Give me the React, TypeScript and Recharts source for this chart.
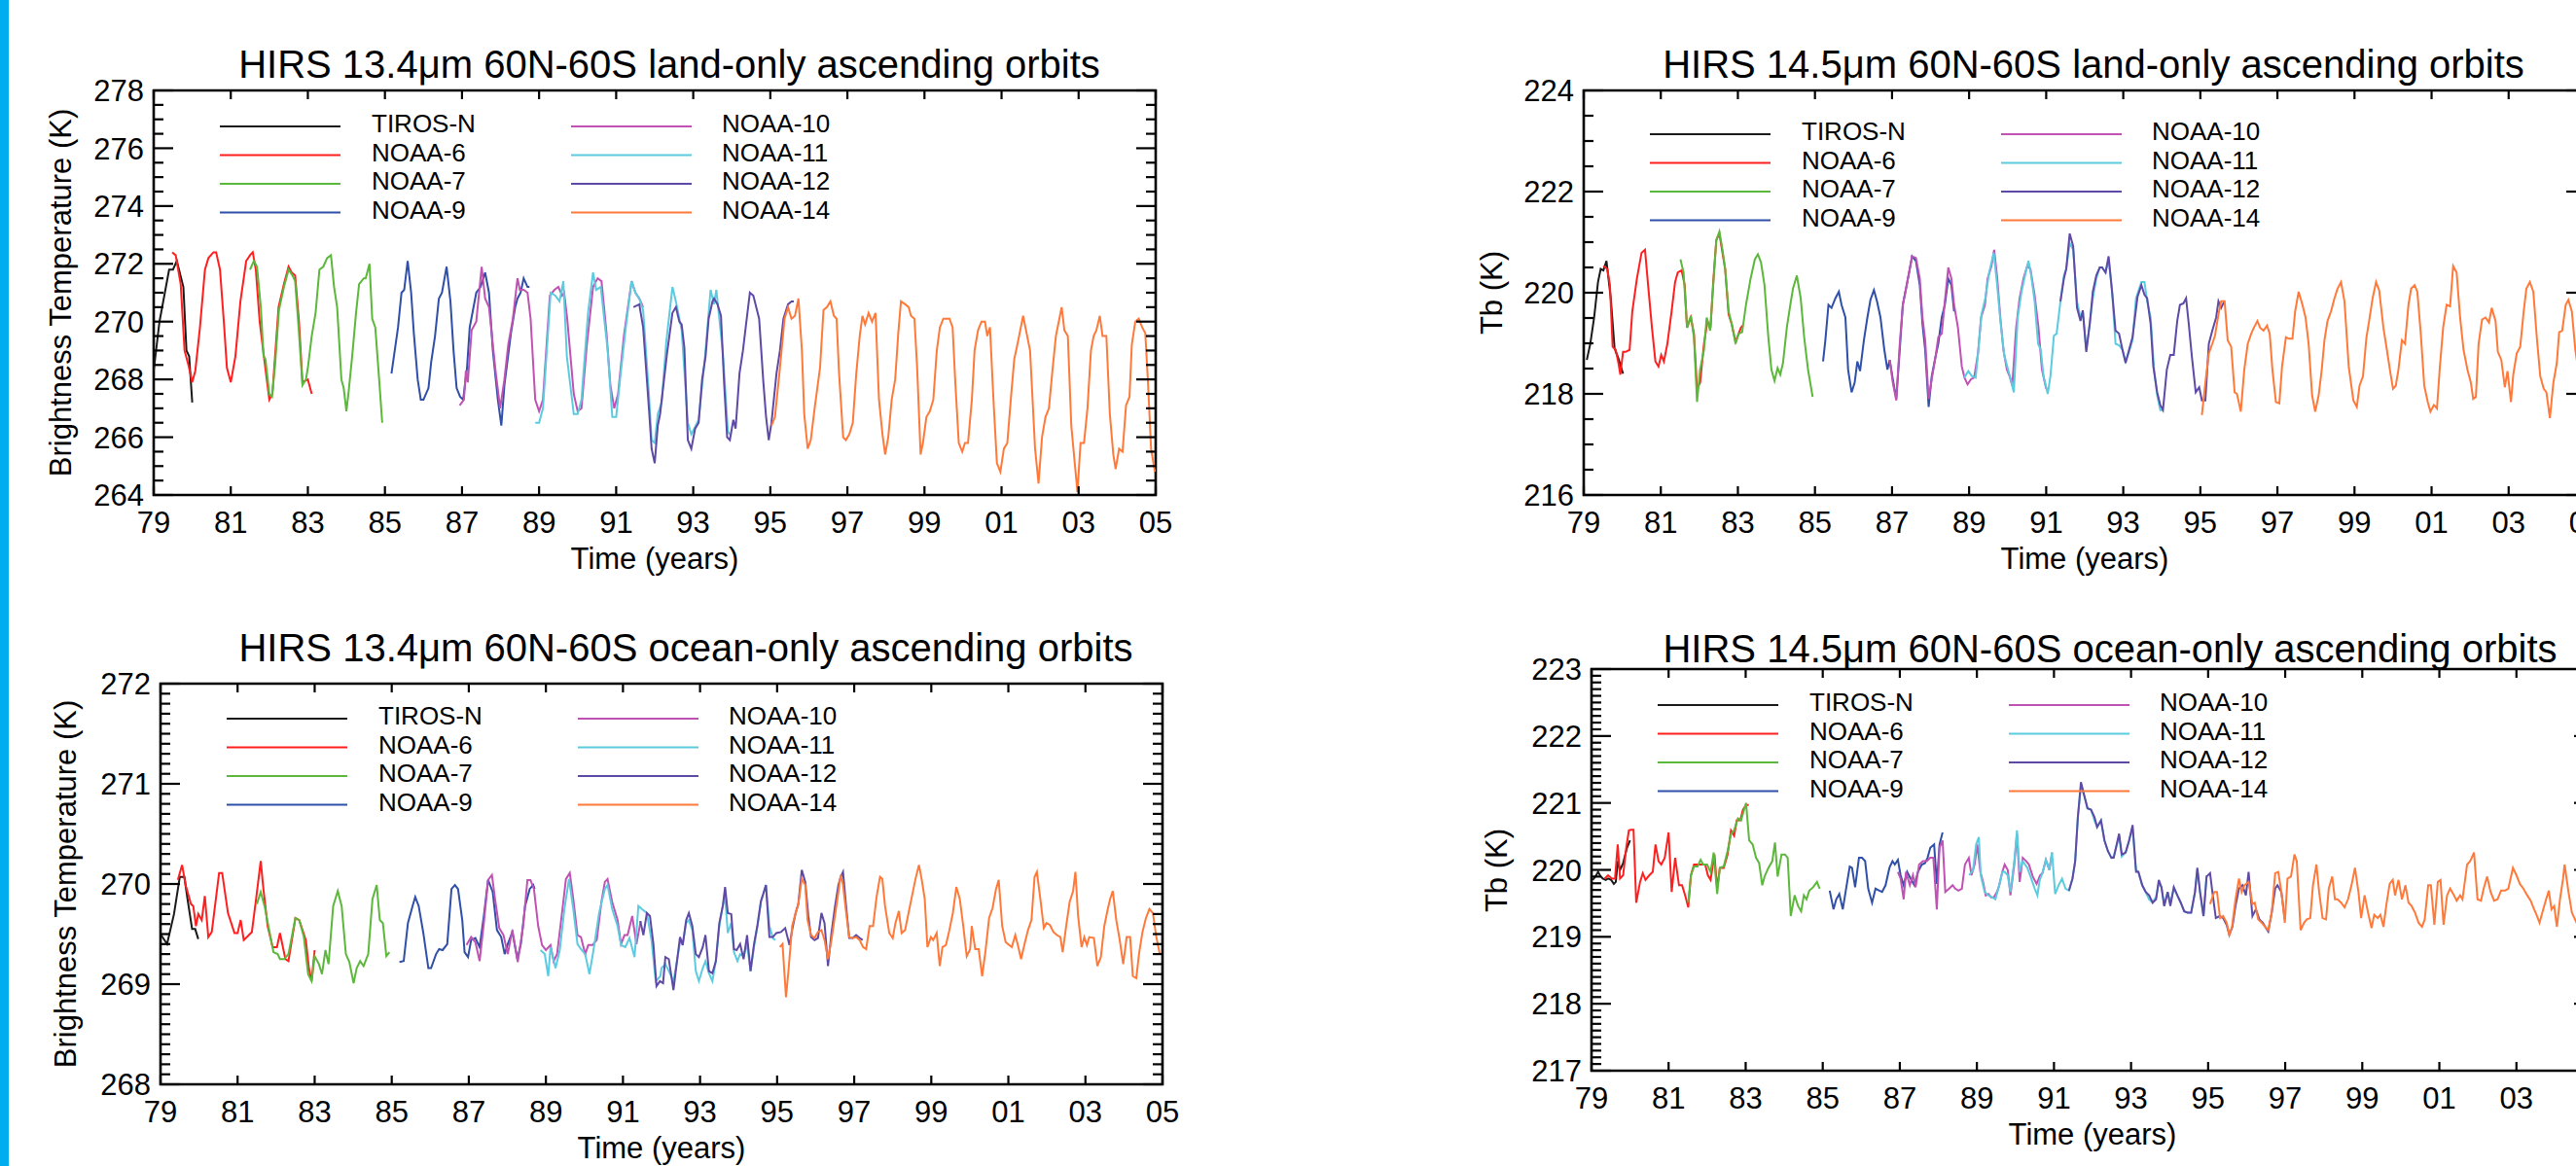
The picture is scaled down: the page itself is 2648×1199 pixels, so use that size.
import React from "react";
import { LineChart, Line, XAxis, YAxis, ReferenceArea, Legend } from "recharts";

type Pt = [number, number]; // [years since 1900, brightness temperature K]

const FONT = '"Liberation Sans", Arial, Helvetica, sans-serif';

const SATELLITES = ["TIROS-N", "NOAA-6", "NOAA-7", "NOAA-9", "NOAA-10", "NOAA-11", "NOAA-12", "NOAA-14"];
const SAT_COLORS = ["#1a1a1a", "#ff1f1f", "#5cb83c", "#2f4fa8", "#c052b4", "#5ccbe0", "#5e4aa6", "#ff7a3a"];

const YEAR_TICKS = [79, 81, 83, 85, 87, 89, 91, 93, 95, 97, 99, 101, 103, 105];

// ---------- HIRS 13.4um land ----------
const L134_TIROSN: Pt[] = [[79.0,268.3],[79.15,270.0],[79.4,271.8],[79.5,271.8],[79.6,272.1],[79.77,271.2],[79.85,269.0],[79.92,268.8],[80.0,267.2]];
const L134_N6: Pt[] = [[79.48,272.4],[79.57,272.3],[79.7,271.3],[79.8,269.0],[79.9,268.5],[80.0,267.9],[80.08,268.3],[80.2,269.8],[80.33,271.8],[80.42,272.2],[80.55,272.4],[80.62,272.4],[80.72,271.8],[80.82,270.0],[80.9,268.4],[81.0,267.9],[81.12,268.8],[81.25,270.7],[81.4,272.1],[81.5,272.3],[81.57,272.4],[81.65,271.8],[81.75,270.0],[81.85,268.9],[82.0,267.3],[82.08,267.5],[82.24,270.5],[82.38,271.3],[82.5,271.9],[82.58,271.7],[82.67,271.6],[82.77,270.0],[82.86,267.9],[83.0,268.0],[83.1,267.5]];
const L134_N7: Pt[] = [[81.5,271.8],[81.6,272.1],[81.68,271.9],[81.78,270.5],[81.85,268.8],[81.9,268.7],[82.0,267.5],[82.07,267.4],[82.15,268.5],[82.25,270.4],[82.38,271.2],[82.5,271.8],[82.6,271.6],[82.67,271.4],[82.76,269.8],[82.86,267.8],[82.95,268.0],[83.0,268.4],[83.1,269.5],[83.2,270.3],[83.3,271.8],[83.4,271.9],[83.5,272.2],[83.6,272.3],[83.68,271.2],[83.76,270.5],[83.87,268.0],[83.93,267.7],[84.0,266.9],[84.06,267.6],[84.15,268.8],[84.25,270.3],[84.33,271.3],[84.45,271.5],[84.5,271.5],[84.6,272.0],[84.67,270.1],[84.75,269.8],[84.85,268.0],[84.93,266.5]];
const L134_N9: Pt[] = [[85.17,268.2],[85.34,269.8],[85.43,271.0],[85.5,271.1],[85.59,272.1],[85.68,271.0],[85.75,269.6],[85.85,268.0],[85.93,267.3],[86.0,267.3],[86.13,267.7],[86.2,268.6],[86.3,269.5],[86.4,270.8],[86.48,271.0],[86.6,271.9],[86.7,270.7],[86.78,269.0],[86.86,267.7],[86.95,267.4],[87.03,267.3],[87.13,268.4],[87.2,269.8],[87.37,271.0],[87.48,271.2],[87.6,271.7],[87.7,271.0],[87.8,269.0],[87.93,267.3],[88.02,266.4],[88.1,267.8],[88.27,269.6],[88.38,270.5],[88.44,270.8],[88.52,271.0],[88.6,271.5],[88.7,271.2],[88.75,271.2]];
const L134_N10: Pt[] = [[86.94,267.1],[87.05,267.3],[87.1,268.3],[87.15,267.9],[87.25,269.7],[87.37,270.0],[87.51,271.9],[87.6,270.8],[87.7,270.5],[87.87,268.3],[87.99,267.0],[88.1,268.0],[88.2,269.2],[88.32,270.1],[88.44,271.5],[88.5,271.1],[88.6,271.1],[88.7,271.0],[88.78,270.1],[88.9,267.3],[89.0,266.9],[89.1,267.3],[89.28,270.9],[89.4,271.1],[89.5,271.2],[89.6,270.9],[89.65,271.0],[89.73,270.1],[89.9,267.5],[90.0,266.9],[90.1,267.0],[90.24,269.2],[90.4,271.2],[90.52,271.5],[90.62,271.4],[90.75,269.6],[90.85,267.8],[90.95,267.0],[91.05,267.5],[91.2,269.5],[91.4,271.4],[91.5,271.0],[91.6,270.8],[91.7,270.5]];
const L134_N11: Pt[] = [[88.9,266.5],[89.0,266.5],[89.1,267.0],[89.3,271.0],[89.42,270.9],[89.53,270.7],[89.63,271.4],[89.72,268.8],[89.9,266.8],[90.0,266.8],[90.1,267.3],[90.27,270.3],[90.4,271.7],[90.48,271.1],[90.6,271.2],[90.78,269.0],[90.9,266.7],[91.0,266.7],[91.1,268.0],[91.25,269.8],[91.4,271.4],[91.5,271.0],[91.6,270.8],[91.7,270.4],[91.85,267.5],[91.92,265.9],[92.0,265.8],[92.08,266.8],[92.18,267.2],[92.3,269.3],[92.46,271.2],[92.55,270.7],[92.7,269.7],[92.86,266.5],[92.95,266.1],[93.14,266.6],[93.3,268.7],[93.45,271.1],[93.54,270.6],[93.6,271.1],[93.77,268.9],[93.9,266.2],[93.95,266.1]];
const L134_N12: Pt[] = [[91.45,270.5],[91.6,270.6],[91.7,269.8],[91.85,267.0],[91.92,265.6],[92.0,265.1],[92.08,266.4],[92.14,266.8],[92.32,268.9],[92.46,270.3],[92.55,270.5],[92.64,270.0],[92.7,269.9],[92.77,269.1],[92.86,265.9],[92.95,265.6],[93.05,266.3],[93.14,266.5],[93.23,268.0],[93.32,268.8],[93.4,270.1],[93.5,270.7],[93.54,270.8],[93.63,270.6],[93.72,270.2],[93.8,267.9],[93.88,266.0],[93.95,265.9],[94.04,266.6],[94.1,266.3],[94.2,268.2],[94.29,269.0],[94.37,269.9],[94.47,271.0],[94.56,270.9],[94.71,270.1],[94.82,267.9],[94.89,266.7],[94.96,265.9],[95.03,266.5],[95.16,268.2],[95.25,269.0],[95.34,270.1],[95.46,270.6],[95.55,270.7],[95.61,270.7]];
const L134_N14: Pt[] = [[95.03,266.4],[95.12,266.7],[95.25,268.4],[95.37,270.1],[95.46,270.5],[95.55,270.1],[95.64,270.2],[95.73,270.8],[95.82,269.0],[95.88,266.8],[95.97,265.6],[96.05,265.9],[96.15,267.0],[96.29,268.4],[96.38,270.4],[96.47,270.5],[96.56,270.7],[96.65,270.2],[96.72,270.1],[96.78,268.3],[96.89,266.0],[96.96,265.9],[97.05,266.1],[97.14,266.5],[97.23,268.2],[97.32,269.5],[97.39,270.2],[97.46,269.9],[97.55,270.3],[97.64,270.0],[97.73,270.3],[97.82,267.3],[97.91,266.1],[97.98,265.4],[98.06,266.0],[98.15,267.3],[98.24,268.0],[98.32,269.6],[98.39,270.7],[98.5,270.6],[98.59,270.5],[98.65,270.2],[98.74,270.1],[98.81,268.4],[98.9,265.4],[98.96,265.8],[99.05,266.7],[99.14,266.9],[99.23,267.3],[99.32,269.0],[99.4,269.8],[99.49,270.1],[99.56,270.1],[99.65,270.1],[99.73,269.8],[99.8,267.9],[99.89,265.8],[99.98,265.5],[100.05,265.8],[100.13,265.8],[100.23,267.3],[100.3,269.0],[100.39,269.7],[100.48,270.0],[100.57,270.0],[100.63,269.5],[100.7,269.8],[100.79,267.3],[100.88,265.1],[100.97,264.8],[101.06,265.6],[101.15,265.8],[101.24,267.3],[101.33,268.7],[101.41,269.2],[101.5,269.8],[101.56,270.2],[101.65,269.6],[101.74,269.0],[101.87,265.6],[101.96,264.4],[102.05,266.0],[102.14,266.7],[102.23,267.0],[102.32,268.3],[102.41,269.5],[102.5,270.1],[102.56,270.5],[102.63,269.7],[102.72,269.5],[102.81,266.4],[102.9,265.1],[102.97,264.1],[103.05,265.8],[103.14,265.8],[103.23,267.0],[103.32,269.0],[103.39,269.5],[103.46,269.7],[103.55,270.2],[103.62,269.5],[103.72,269.5],[103.81,266.8],[103.9,265.4],[103.96,264.9],[104.05,265.6],[104.14,265.5],[104.23,267.1],[104.32,267.4],[104.38,269.2],[104.47,270.0],[104.56,270.1],[104.65,269.8],[104.73,269.6],[104.8,267.9],[104.88,265.6],[104.98,264.8]];

// ---------- HIRS 13.4um ocean ----------
const O134_TIROSN: Pt[] = [[79.0,269.5],[79.17,269.4],[79.35,269.7],[79.5,270.07],[79.62,270.07],[79.7,269.85],[79.82,269.55],[79.9,269.55],[79.98,269.45]];
const O134_N6: Pt[] = [[79.45,270.04],[79.56,270.19],[79.65,269.99],[79.79,269.8],[79.85,269.78],[79.92,269.58],[79.98,269.7],[80.07,269.64],[80.15,269.88],[80.24,269.47],[80.33,269.52],[80.52,270.11],[80.6,270.11],[80.75,269.71],[80.92,269.51],[81.0,269.51],[81.08,269.64],[81.16,269.44],[81.37,269.52],[81.48,269.85],[81.6,270.23],[81.67,269.95],[81.78,269.58],[81.91,269.37],[82.02,269.37],[82.1,269.51],[82.24,269.25],[82.32,269.23],[82.5,269.66],[82.6,269.64],[82.77,269.44],[82.85,269.16],[82.92,269.03],[83.0,269.34]];
const O134_N7: Pt[] = [[81.5,269.8],[81.6,269.92],[81.7,269.78],[81.82,269.54],[81.93,269.32],[82.04,269.3],[82.1,269.25],[82.21,269.25],[82.32,269.3],[82.5,269.66],[82.6,269.64],[82.72,269.47],[82.83,269.1],[82.92,269.03],[83.0,269.28],[83.11,269.2],[83.19,269.1],[83.28,269.34],[83.36,269.2],[83.48,269.78],[83.6,269.93],[83.7,269.78],[83.81,269.3],[83.9,269.22],[84.01,269.01],[84.09,269.16],[84.18,269.23],[84.27,269.18],[84.39,269.3],[84.5,269.85],[84.61,269.99],[84.69,269.64],[84.77,269.61],[84.86,269.28],[84.94,269.32]];
const O134_N9: Pt[] = [[85.2,269.22],[85.31,269.23],[85.42,269.61],[85.54,269.78],[85.61,269.87],[85.7,269.78],[85.82,269.51],[85.95,269.16],[86.02,269.16],[86.15,269.3],[86.23,269.35],[86.32,269.34],[86.44,269.4],[86.55,269.95],[86.64,269.99],[86.72,269.95],[86.83,269.64],[86.89,269.32],[86.98,269.27],[87.06,269.44],[87.17,269.46],[87.28,269.37],[87.39,269.68],[87.5,270.04],[87.62,269.92],[87.73,269.54],[87.84,269.47],[87.93,269.3],[88.01,269.4],[88.13,269.52],[88.26,269.25],[88.35,269.4],[88.46,269.78],[88.58,269.95],[88.67,269.99],[88.71,269.95]];
const O134_N10: Pt[] = [[86.94,269.39],[87.06,269.47],[87.17,269.42],[87.28,269.23],[87.39,269.61],[87.5,270.04],[87.6,270.09],[87.68,269.85],[87.79,269.56],[87.9,269.49],[88.01,269.3],[88.13,269.54],[88.27,269.22],[88.41,269.58],[88.52,270.04],[88.6,270.04],[88.69,269.95],[88.8,269.58],[88.9,269.39],[89.0,269.34],[89.12,269.39],[89.2,269.23],[89.29,269.3],[89.43,269.75],[89.52,270.05],[89.62,270.11],[89.71,269.85],[89.82,269.49],[89.91,269.47],[90.02,269.3],[90.1,269.39],[90.21,269.39],[90.32,269.44],[90.44,269.82],[90.53,270.02],[90.6,270.05],[90.72,269.82],[90.86,269.64],[90.95,269.4],[91.04,269.49],[91.12,269.49],[91.24,269.68],[91.35,269.4],[91.46,269.63]];
const O134_N11: Pt[] = [[88.86,269.34],[88.97,269.3],[89.06,269.08],[89.12,269.37],[89.25,269.16],[89.36,269.34],[89.48,269.75],[89.6,270.05],[89.71,269.75],[89.82,269.4],[89.91,269.35],[90.02,269.3],[90.13,269.1],[90.24,269.35],[90.38,269.71],[90.53,269.95],[90.6,269.99],[90.72,269.75],[90.86,269.58],[90.95,269.39],[91.06,269.37],[91.17,269.46],[91.3,269.27],[91.4,269.78],[91.49,269.75],[91.62,269.71],[91.74,269.44],[91.85,269.03],[91.97,269.08],[92.0,269.16],[92.1,269.2],[92.19,269.13],[92.31,269.03],[92.37,269.16],[92.48,269.42],[92.55,269.4],[92.64,269.61],[92.71,269.64],[92.8,269.54],[92.89,269.13],[92.97,269.03],[93.07,269.16],[93.14,269.23],[93.23,269.11],[93.32,269.03],[93.41,269.23],[93.5,269.58],[93.59,269.78],[93.65,269.88],[93.72,269.51],[93.81,269.61],[93.88,269.32],[93.97,269.23],[94.04,269.3],[94.13,269.28],[94.22,269.4],[94.31,269.13],[94.4,269.37],[94.49,269.58],[94.58,269.82],[94.71,269.99],[94.8,269.58],[94.89,269.46],[94.95,269.44]];
const O134_N12: Pt[] = [[91.45,269.63],[91.53,269.49],[91.62,269.71],[91.7,269.68],[91.79,269.4],[91.87,268.98],[91.96,269.03],[92.04,269.01],[92.1,269.27],[92.19,269.25],[92.31,268.94],[92.37,269.13],[92.48,269.47],[92.55,269.39],[92.64,269.64],[92.71,269.71],[92.8,269.58],[92.89,269.3],[92.97,269.27],[93.07,269.37],[93.14,269.49],[93.23,269.13],[93.32,269.11],[93.41,269.23],[93.5,269.61],[93.59,269.78],[93.65,269.97],[93.72,269.71],[93.81,269.7],[93.88,269.35],[93.95,269.34],[94.04,269.4],[94.13,269.25],[94.22,269.49],[94.31,269.13],[94.4,269.4],[94.49,269.59],[94.58,269.83],[94.64,269.9],[94.71,269.99],[94.8,269.47],[94.89,269.47],[94.98,269.51],[95.1,269.52],[95.21,269.56],[95.32,269.39],[95.39,269.54],[95.48,269.71],[95.55,269.8],[95.64,270.14],[95.73,270.02],[95.81,269.68],[95.88,269.47],[95.97,269.44],[96.06,269.46],[96.15,269.71],[96.23,269.61],[96.32,269.18],[96.41,269.51],[96.5,269.77],[96.59,269.99],[96.65,270.07],[96.71,270.12],[96.78,269.82],[96.87,269.46],[96.96,269.46],[97.05,269.49],[97.14,269.46],[97.22,269.44]];
const O134_N14: Pt[] = [[95.07,269.37],[95.14,269.4],[95.23,268.87],[95.3,269.16],[95.39,269.58],[95.48,269.71],[95.55,269.8],[95.64,270.05],[95.73,269.99],[95.79,269.64],[95.88,269.49],[95.97,269.46],[96.06,269.52],[96.15,269.54],[96.23,269.44],[96.32,269.25],[96.41,269.44],[96.5,269.68],[96.59,269.92],[96.65,270.09],[96.71,269.99],[96.78,269.75],[96.87,269.47],[96.96,269.46],[97.05,269.47],[97.14,269.44],[97.23,269.37],[97.31,269.35],[97.4,269.58],[97.49,269.58],[97.58,269.87],[97.67,270.07],[97.73,270.05],[97.8,269.78],[97.91,269.51],[98.0,269.46],[98.07,269.61],[98.16,269.73],[98.23,269.51],[98.32,269.54],[98.41,269.71],[98.5,269.88],[98.59,270.05],[98.68,270.19],[98.75,270.05],[98.83,269.85],[98.9,269.37],[98.99,269.47],[99.05,269.44],[99.14,269.51],[99.22,269.18],[99.29,269.37],[99.38,269.39],[99.47,269.54],[99.56,269.71],[99.65,269.97],[99.74,269.85],[99.83,269.58],[99.92,269.28],[100.01,269.35],[100.05,269.58],[100.14,269.35],[100.23,269.35],[100.32,269.08],[100.41,269.34],[100.5,269.66],[100.59,269.76],[100.68,269.95],[100.75,270.04],[100.84,269.58],[100.93,269.42],[101.02,269.39],[101.09,269.37],[101.18,269.49],[101.24,269.4],[101.33,269.25],[101.42,269.4],[101.51,269.54],[101.6,269.64],[101.68,270.07],[101.74,270.12],[101.83,269.85],[101.92,269.56],[101.99,269.61],[102.08,269.59],[102.17,269.52],[102.26,269.49],[102.35,269.47],[102.41,269.32],[102.5,269.58],[102.59,269.82],[102.68,269.93],[102.74,270.12],[102.81,269.68],[102.9,269.37],[102.97,269.47],[103.04,269.39],[103.1,269.47],[103.22,269.46],[103.31,269.18],[103.4,269.27],[103.49,269.58],[103.58,269.75],[103.64,269.85],[103.71,269.93],[103.8,269.64],[103.89,269.44],[103.98,269.2],[104.07,269.47],[104.16,269.47],[104.23,269.08],[104.32,269.06],[104.39,269.3],[104.48,269.52],[104.57,269.66],[104.66,269.75],[104.75,269.71],[104.84,269.47],[104.93,269.3],[104.97,269.3]];

// ---------- HIRS 14.5um land ----------
const L145_TIROSN: Pt[] = [[79.08,218.67],[79.17,218.99],[79.27,219.51],[79.37,220.21],[79.44,220.47],[79.51,220.44],[79.59,220.63],[79.7,219.9],[79.8,218.9],[79.9,218.7],[80.02,218.4]];
const L145_N6: Pt[] = [[79.51,220.53],[79.61,220.47],[79.68,220.15],[79.75,218.93],[79.83,218.87],[79.9,218.61],[79.95,218.38],[80.02,218.83],[80.09,218.83],[80.19,218.87],[80.26,219.63],[80.38,220.28],[80.5,220.79],[80.59,220.85],[80.67,220.15],[80.77,219.31],[80.86,218.64],[80.94,218.54],[81.01,218.77],[81.08,218.64],[81.17,218.99],[81.28,219.63],[81.37,220.21],[81.44,220.4],[81.54,220.44],[81.62,220.15],[81.68,219.31],[81.78,219.51],[81.86,219.19],[81.94,218.1],[82.02,218.22],[82.12,218.99],[82.21,219.44],[82.29,219.31],[82.36,220.21],[82.44,221.04],[82.52,221.17],[82.6,220.79],[82.67,220.47],[82.76,219.57],[82.84,219.38],[82.94,219.03],[83.02,219.19],[83.08,219.31],[83.13,219.35]];
const L145_N7: Pt[] = [[81.51,220.66],[81.59,220.4],[81.68,219.31],[81.78,219.54],[81.86,219.12],[81.94,217.84],[82.02,218.48],[82.12,218.87],[82.19,219.51],[82.28,219.25],[82.36,220.15],[82.44,221.04],[82.52,221.21],[82.6,220.85],[82.67,220.47],[82.76,219.63],[82.84,219.38],[82.94,218.99],[83.02,219.19],[83.11,219.22],[83.21,219.76],[83.33,220.28],[83.44,220.66],[83.52,220.76],[83.6,220.6],[83.69,220.15],[83.79,219.12],[83.87,218.48],[83.95,218.26],[84.03,218.51],[84.1,218.38],[84.17,218.61],[84.27,219.31],[84.36,219.76],[84.43,220.08],[84.53,220.34],[84.63,219.89],[84.72,219.12],[84.82,218.48],[84.94,217.94]];
const L145_N9: Pt[] = [[85.21,218.64],[85.27,219.06],[85.35,219.76],[85.43,219.7],[85.53,219.89],[85.62,220.02],[85.69,219.76],[85.79,219.51],[85.86,218.48],[85.95,218.03],[86.03,218.22],[86.1,218.64],[86.17,218.45],[86.27,219.06],[86.36,219.51],[86.44,219.86],[86.53,220.05],[86.61,219.83],[86.7,219.51],[86.8,218.87],[86.88,218.48],[86.94,218.67],[87.02,218.29],[87.11,217.9],[87.2,218.87],[87.28,219.76],[87.38,220.15],[87.46,220.47],[87.52,220.72],[87.62,220.63],[87.72,220.15],[87.79,219.38],[87.86,218.87],[87.95,217.74],[88.03,218.35],[88.13,218.74],[88.2,218.99],[88.29,219.51],[88.37,219.76],[88.46,220.28],[88.54,220.15],[88.61,219.63]];
const L145_N10: Pt[] = [[86.94,218.67],[87.02,218.22],[87.11,217.87],[87.2,218.99],[87.28,219.76],[87.38,220.15],[87.46,220.47],[87.52,220.72],[87.62,220.69],[87.72,220.28],[87.79,219.51],[87.86,219.06],[87.95,217.9],[88.03,218.29],[88.13,218.74],[88.2,219.12],[88.29,219.19],[88.37,219.83],[88.46,220.5],[88.54,220.28],[88.61,219.76],[88.71,219.31],[88.81,218.54],[88.88,218.32],[88.96,218.19],[89.05,218.29],[89.13,218.32],[89.23,218.8],[89.31,219.51],[89.41,219.76],[89.48,220.28],[89.58,220.53],[89.65,220.85],[89.73,220.28],[89.81,219.51],[89.89,218.87],[89.98,218.48],[90.05,218.35],[90.12,218.16],[90.22,219.31],[90.31,219.89],[90.41,220.28],[90.51,220.53],[90.59,220.47],[90.7,219.95],[90.8,219.31],[90.89,218.48],[91.0,218.1]];
const L145_N11: Pt[] = [[88.87,218.32],[88.98,218.45],[89.07,218.35],[89.17,218.32],[89.24,218.87],[89.32,219.57],[89.42,219.89],[89.52,220.4],[89.64,220.79],[89.72,220.21],[89.82,219.38],[89.91,218.77],[90.01,218.48],[90.08,218.29],[90.16,218.03],[90.26,219.51],[90.36,220.02],[90.45,220.34],[90.54,220.63],[90.6,220.4],[90.7,219.83],[90.79,218.99],[90.86,218.87],[90.93,218.35],[91.04,218.0],[91.11,218.35],[91.2,219.15],[91.27,219.19],[91.37,219.83],[91.46,220.34],[91.52,220.47],[91.61,220.98],[91.7,220.85],[91.8,219.83],[91.89,219.51],[91.95,219.63],[92.04,218.87],[92.13,219.38],[92.21,219.89],[92.3,220.28],[92.39,220.5],[92.45,220.5],[92.54,220.4],[92.62,220.66],[92.71,220.02],[92.8,218.99],[92.89,218.96],[92.98,218.87],[93.06,218.64],[93.15,218.83],[93.24,219.06],[93.33,219.89],[93.47,220.21],[93.55,220.21],[93.62,219.83],[93.71,219.51],[93.8,218.48],[93.88,217.97],[93.96,217.68],[94.03,217.68]];
const L145_N12: Pt[] = [[91.37,219.83],[91.46,220.28],[91.52,220.47],[91.61,221.17],[91.7,220.92],[91.8,219.7],[91.89,219.44],[91.95,219.65],[92.04,218.83],[92.13,219.38],[92.21,220.02],[92.3,220.34],[92.39,220.5],[92.45,220.5],[92.54,220.4],[92.62,220.72],[92.71,220.02],[92.8,219.25],[92.89,219.19],[92.98,218.87],[93.06,218.61],[93.15,218.87],[93.24,219.12],[93.37,219.92],[93.47,220.15],[93.55,219.96],[93.62,219.89],[93.71,219.38],[93.78,218.54],[93.88,218.03],[93.96,217.78],[94.03,217.68],[94.13,218.48],[94.22,218.77],[94.31,218.77],[94.4,219.44],[94.47,219.76],[94.56,219.79],[94.63,219.89],[94.7,219.38],[94.78,218.74],[94.88,218.03],[94.97,218.13],[95.04,217.87],[95.13,217.87],[95.22,218.99],[95.31,219.25],[95.41,219.51],[95.47,219.83],[95.54,219.7],[95.62,219.83]];
const L145_N14: Pt[] = [[95.04,217.58],[95.13,218.22],[95.22,218.8],[95.31,218.99],[95.38,219.15],[95.47,219.57],[95.54,219.83],[95.63,219.83],[95.71,219.06],[95.8,218.93],[95.89,218.03],[95.95,218.0],[96.05,217.65],[96.14,218.48],[96.23,218.99],[96.32,219.19],[96.39,219.31],[96.48,219.44],[96.55,219.31],[96.64,219.25],[96.73,219.35],[96.8,219.19],[96.87,218.48],[96.96,217.84],[97.05,217.81],[97.12,218.54],[97.22,219.12],[97.3,219.09],[97.39,219.09],[97.46,219.63],[97.55,220.02],[97.65,219.76],[97.73,219.51],[97.81,218.99],[97.9,217.97],[97.98,217.65],[98.07,217.97],[98.15,218.48],[98.22,219.06],[98.3,219.44],[98.39,219.63],[98.48,219.89],[98.56,220.08],[98.65,220.21],[98.74,219.83],[98.85,218.54],[98.97,217.87],[99.06,217.74],[99.13,218.16],[99.22,218.35],[99.31,219.12],[99.38,219.44],[99.47,219.89],[99.56,220.21],[99.64,220.05],[99.75,219.31],[99.84,218.87],[99.93,218.42],[100.0,218.1],[100.07,218.16],[100.14,218.48],[100.23,219.06],[100.31,218.99],[100.4,219.76],[100.47,220.08],[100.56,220.15],[100.63,220.02],[100.72,219.19],[100.81,218.16],[100.9,217.84],[100.97,217.65],[101.06,217.78],[101.14,217.71],[101.21,218.48],[101.3,219.31],[101.39,219.76],[101.48,219.73],[101.56,220.53],[101.65,220.4],[101.74,219.51],[101.83,218.87],[101.93,218.48],[102.02,218.22],[102.08,217.9],[102.15,217.94],[102.22,218.99],[102.31,219.47],[102.4,219.51],[102.49,219.41],[102.56,219.7],[102.66,219.44],[102.72,218.83],[102.81,218.67],[102.9,218.13],[102.97,218.45],[103.06,217.84],[103.12,218.38],[103.21,218.8],[103.3,218.93],[103.39,219.63],[103.46,220.08],[103.55,220.21],[103.64,220.02],[103.73,219.12],[103.82,218.35],[103.91,218.1],[103.98,218.03],[104.07,217.52],[104.16,218.22],[104.25,218.61],[104.31,219.22],[104.39,219.25],[104.48,219.76],[104.55,219.86],[104.64,219.63],[104.73,218.87],[104.82,218.4],[104.92,218.1]];

// ---------- HIRS 14.5um ocean ----------
const O145_TIROSN: Pt[] = [[79.03,219.85],[79.1,219.9],[79.17,219.97],[79.22,219.92],[79.29,219.87],[79.37,219.85],[79.43,219.87],[79.51,219.85],[79.58,219.79],[79.63,219.82],[79.68,220.13],[79.74,220.0],[79.82,220.1],[79.92,220.33],[80.0,220.44]];
const O145_N6: Pt[] = [[79.34,219.87],[79.43,219.92],[79.53,219.87],[79.61,219.87],[79.68,220.38],[79.74,219.87],[79.82,219.92],[79.9,220.33],[79.97,220.59],[80.03,220.6],[80.09,220.6],[80.16,219.51],[80.26,219.82],[80.33,219.95],[80.4,219.85],[80.5,219.92],[80.59,219.97],[80.66,220.38],[80.74,220.13],[80.81,220.08],[80.9,220.18],[81.0,220.56],[81.08,219.67],[81.17,220.18],[81.27,219.77],[81.35,219.77],[81.43,219.62],[81.51,219.44],[81.58,219.92],[81.66,220.08],[81.75,220.08],[81.85,220.08],[81.95,220.08],[82.02,219.92],[82.09,219.85],[82.19,220.23],[82.26,219.72],[82.33,220.03],[82.43,220.03],[82.53,220.23],[82.62,220.59],[82.7,220.51],[82.77,220.74],[82.86,220.74],[82.93,220.9],[83.01,220.97],[83.08,220.97]];
const O145_N7: Pt[] = [[81.51,219.51],[81.58,219.92],[81.66,220.05],[81.75,220.05],[81.83,220.15],[81.9,220.08],[82.0,220.08],[82.09,219.97],[82.17,220.26],[82.26,219.64],[82.33,220.03],[82.43,220.05],[82.53,220.28],[82.62,220.54],[82.7,220.59],[82.8,220.77],[82.88,220.74],[82.96,220.9],[83.01,221.0],[83.09,220.44],[83.18,220.38],[83.27,220.18],[83.35,220.1],[83.43,219.77],[83.49,219.9],[83.59,220.03],[83.69,220.13],[83.76,220.41],[83.83,219.9],[83.93,220.23],[84.02,220.23],[84.09,220.18],[84.17,219.31],[84.27,219.62],[84.36,219.46],[84.44,219.38],[84.51,219.62],[84.58,219.56],[84.65,219.69],[84.75,219.74],[84.85,219.82],[84.92,219.72]];
const O145_N9: Pt[] = [[85.18,219.69],[85.28,219.41],[85.35,219.56],[85.43,219.64],[85.52,219.41],[85.62,219.77],[85.7,220.05],[85.76,220.03],[85.84,219.74],[85.94,220.18],[86.02,220.18],[86.1,220.13],[86.18,219.72],[86.28,219.51],[86.37,219.72],[86.47,219.69],[86.54,219.67],[86.63,219.77],[86.73,220.03],[86.81,220.13],[86.87,220.08],[86.95,220.15],[87.02,219.92],[87.1,219.77],[87.19,219.97],[87.28,219.87],[87.38,219.77],[87.47,219.97],[87.57,220.08],[87.65,220.1],[87.72,220.18],[87.79,220.33],[87.89,220.38],[87.96,219.79],[88.03,220.38],[88.11,220.56]];
const O145_N10: Pt[] = [[86.95,219.97],[87.02,219.87],[87.1,219.56],[87.16,219.97],[87.26,219.77],[87.34,219.92],[87.41,219.74],[87.5,220.08],[87.6,220.13],[87.7,220.13],[87.79,220.18],[87.87,220.18],[87.96,219.41],[88.03,220.33],[88.11,220.44],[88.18,219.67],[88.28,219.72],[88.37,219.77],[88.44,219.72],[88.52,219.69],[88.61,219.72],[88.69,220.08],[88.79,220.18],[88.86,219.92],[88.94,220.08],[89.01,220.38],[89.09,219.97],[89.16,219.82],[89.23,219.62],[89.3,219.64],[89.37,219.59],[89.44,219.59],[89.52,219.67],[89.58,219.77],[89.66,219.97],[89.72,220.08],[89.8,220.0],[89.87,219.62],[89.97,220.08],[90.04,220.54],[90.11,219.82],[90.19,220.18],[90.28,220.13],[90.35,220.08],[90.45,219.9],[90.55,219.79],[90.64,219.92],[90.7,219.95],[90.79,220.15],[90.88,220.0],[90.95,220.26]];
const O145_N11: Pt[] = [[88.8,219.92],[88.9,220.0],[88.98,220.38],[89.05,220.49],[89.1,219.92],[89.2,219.67],[89.3,219.62],[89.39,219.59],[89.48,219.56],[89.58,219.77],[89.66,219.97],[89.72,219.97],[89.8,219.92],[89.87,219.67],[89.97,220.13],[90.04,220.59],[90.11,219.97],[90.19,220.13],[90.31,220.03],[90.41,219.87],[90.5,219.72],[90.57,219.62],[90.63,219.85],[90.7,219.95],[90.79,220.15],[90.88,220.0],[90.95,220.26],[91.03,219.64],[91.12,219.77],[91.21,219.87],[91.3,219.72],[91.39,219.69],[91.48,219.87],[91.55,220.13],[91.62,220.79],[91.7,221.25],[91.8,221.08],[91.87,220.92],[91.96,220.9],[92.05,220.74],[92.12,220.64],[92.22,220.74],[92.31,220.44],[92.4,220.28],[92.49,220.18],[92.55,220.2],[92.62,220.36],[92.69,220.5],[92.76,220.2],[92.86,220.26],[92.95,220.44],[93.04,220.62],[93.13,220.0],[93.19,219.97],[93.29,219.77],[93.38,219.67],[93.47,219.56],[93.56,219.51],[93.65,219.6],[93.72,219.8],[93.79,219.74],[93.86,219.46],[93.95,219.67],[94.02,219.5],[94.11,219.74],[94.2,219.62],[94.29,219.51],[94.38,219.38],[94.47,219.36],[94.56,219.36],[94.66,219.67],[94.72,220.0],[94.79,219.67],[94.88,219.31],[94.96,219.92]];
const O145_N12: Pt[] = [[91.39,219.69],[91.48,219.87],[91.55,220.13],[91.62,220.79],[91.7,221.31],[91.8,221.08],[91.87,220.92],[91.96,220.9],[92.05,220.79],[92.12,220.64],[92.22,220.74],[92.31,220.44],[92.4,220.28],[92.49,220.18],[92.55,220.18],[92.62,220.36],[92.69,220.54],[92.76,220.23],[92.86,220.26],[92.95,220.44],[93.04,220.67],[93.13,219.97],[93.19,219.97],[93.29,219.77],[93.38,219.67],[93.47,219.62],[93.56,219.51],[93.65,219.56],[93.72,219.85],[93.79,219.74],[93.86,219.46],[93.95,219.67],[94.02,219.46],[94.11,219.74],[94.2,219.62],[94.29,219.51],[94.38,219.38],[94.47,219.36],[94.56,219.36],[94.66,219.67],[94.72,220.03],[94.79,219.67],[94.88,219.31],[94.96,219.9],[95.05,219.95],[95.11,219.67],[95.2,219.28],[95.3,219.31],[95.39,219.28],[95.48,219.18],[95.55,219.03],[95.63,219.15],[95.71,219.46],[95.8,219.72],[95.89,219.77],[95.98,219.62],[96.05,219.97],[96.15,219.31],[96.24,219.41],[96.33,219.26],[96.42,219.21],[96.48,219.15],[96.56,219.08],[96.65,219.36],[96.74,219.72],[96.8,219.77],[96.9,219.67],[96.99,219.26]];
const O145_N14: Pt[] = [[95.05,219.49],[95.16,219.67],[95.23,219.67],[95.31,219.28],[95.39,219.31],[95.48,219.21],[95.55,219.03],[95.62,219.15],[95.71,219.56],[95.8,219.87],[95.87,219.67],[95.94,219.77],[96.05,219.82],[96.15,219.49],[96.21,219.51],[96.3,219.26],[96.39,219.21],[96.48,219.15],[96.56,219.1],[96.65,219.36],[96.74,219.95],[96.82,219.97],[96.9,219.67],[96.99,219.21],[97.06,219.87],[97.15,219.9],[97.24,220.23],[97.3,220.13],[97.4,219.1],[97.49,219.21],[97.56,219.26],[97.65,219.28],[97.72,219.77],[97.81,220.08],[97.88,219.67],[97.97,219.28],[98.06,219.26],[98.13,219.72],[98.22,219.9],[98.29,219.56],[98.36,219.56],[98.45,219.51],[98.54,219.44],[98.63,219.56],[98.72,219.77],[98.81,220.03],[98.9,219.67],[98.97,219.28],[99.06,219.62],[99.15,219.36],[99.24,219.13],[99.31,219.33],[99.4,219.28],[99.47,219.33],[99.55,219.15],[99.62,219.46],[99.71,219.79],[99.79,219.85],[99.85,219.62],[99.94,219.85],[100.03,219.56],[100.12,219.77],[100.2,219.51],[100.28,219.46],[100.37,219.36],[100.46,219.21],[100.55,219.15],[100.62,219.26],[100.71,219.77],[100.78,219.77],[100.87,219.18],[100.96,219.82],[101.03,219.85],[101.11,219.18],[101.2,219.62],[101.28,219.72],[101.38,219.62],[101.45,219.54],[101.54,219.62],[101.6,219.56],[101.72,220.08],[101.8,220.13],[101.9,220.26],[101.99,219.56],[102.08,219.54],[102.15,219.72],[102.24,219.9],[102.33,219.67],[102.42,219.54],[102.51,219.56],[102.6,219.69],[102.7,219.69],[102.79,219.72],[102.91,220.03],[103.0,219.92],[103.09,219.79],[103.18,219.72],[103.28,219.62],[103.37,219.54],[103.46,219.41],[103.52,219.33],[103.6,219.21],[103.68,219.38],[103.77,219.56],[103.84,219.69],[103.91,219.41],[103.98,219.46],[104.05,219.15],[104.13,219.56],[104.21,219.87],[104.25,220.08],[104.35,219.67],[104.44,219.36],[104.56,219.21],[104.7,219.45],[104.85,219.6],[104.97,219.35]];

type PanelCfg = {
  title: string;
  yLabel: string;
  left: number; top: number; w: number; h: number;
  yMin: number; yMax: number; major: number; minor: number;
  series: Pt[][];
  titleX: number; titleBase: number; yLabelX: number; legendTop: number;
};

const PANELS: PanelCfg[] = [
  {
    title: "HIRS 13.4\u03bcm 60N-60S land-only ascending orbits", yLabel: "Brightness Temperature (K)",
    left: 158, top: 93, w: 1030, h: 416, yMin: 264, yMax: 278, major: 2, minor: 0.5,
    series: [L134_TIROSN, L134_N6, L134_N7, L134_N9, L134_N10, L134_N11, L134_N12, L134_N14],
    titleX: 688, titleBase: 80, yLabelX: 62, legendTop: 37,
  },
  {
    title: "HIRS 14.5\u03bcm 60N-60S land-only ascending orbits", yLabel: "Tb (K)",
    left: 1628, top: 93, w: 1030, h: 416, yMin: 216, yMax: 224, major: 2, minor: 0.5,
    series: [L145_TIROSN, L145_N6, L145_N7, L145_N9, L145_N10, L145_N11, L145_N12, L145_N14],
    titleX: 2152, titleBase: 80, yLabelX: 1533, legendTop: 45,
  },
  {
    title: "HIRS 13.4\u03bcm 60N-60S ocean-only ascending orbits", yLabel: "Brightness Temperature (K)",
    left: 165, top: 703, w: 1030, h: 412, yMin: 268, yMax: 272, major: 1, minor: 0.1,
    series: [O134_TIROSN, O134_N6, O134_N7, O134_N9, O134_N10, O134_N11, O134_N12, O134_N14],
    titleX: 705, titleBase: 680, yLabelX: 67, legendTop: 36,
  },
  {
    title: "HIRS 14.5\u03bcm 60N-60S ocean-only ascending orbits", yLabel: "Tb (K)",
    left: 1636, top: 688, w: 1030, h: 413, yMin: 217, yMax: 223, major: 1, minor: 0.1,
    series: [O145_TIROSN, O145_N6, O145_N7, O145_N9, O145_N10, O145_N11, O145_N12, O145_N14],
    titleX: 2169, titleBase: 681, yLabelX: 1538, legendTop: 37,
  },
];

const PAD_L = 120;
const PAD_R = 40;
const PAD_T = 40;
const PAD_B = 90;

const LEGEND_ROW = 29.5;

const fmtYear = (v: number) => String(Math.round(v) % 100).padStart(2, "0");

const LegendBox = () => (
  <svg width={760} height={150} style={{ display: "block", overflow: "visible" }}>
    {SATELLITES.map((name, i) => {
      const col = i < 4 ? 0 : 1;
      const row = i % 4;
      const y = 20 + row * LEGEND_ROW;
      const x0 = col === 0 ? 68 : 429;
      const tx = col === 0 ? 224 : 584;
      return (
        <g key={name}>
          <line x1={x0} x2={x0 + 124} y1={y} y2={y} stroke={SAT_COLORS[i]} strokeWidth={2} />
          <text x={tx} y={y + 6} fontSize={26} fontFamily={FONT} fill="#000">{name}</text>
        </g>
      );
    })}
  </svg>
);

const Panel = ({ p }: { p: PanelCfg }) => {
  const W = PAD_L + p.w + PAD_R;
  const H = PAD_T + p.h + PAD_B;
  const PL = PAD_L;
  const PR = PAD_L + p.w;
  const PT = PAD_T;
  const PB = PAD_T + p.h;

  const yTicks: number[] = [];
  const n = Math.round((p.yMax - p.yMin) / p.minor);
  for (let i = 0; i <= n; i++) yTicks.push(Math.round((p.yMin + i * p.minor) * 1000) / 1000);

  const xTick = (props: any) => {
    const x = props.x;
    return (
      <g>
        <line x1={x} x2={x} y1={PB} y2={PB - 9} stroke="#000" strokeWidth={2.2} />
        <line x1={x} x2={x} y1={PT} y2={PT + 9} stroke="#000" strokeWidth={2.2} />
        <text x={x} y={PB + 28} dy="0.36em" textAnchor="middle" fontSize={31} fontFamily={FONT} fill="#000">
          {fmtYear(props.payload.value)}
        </text>
      </g>
    );
  };

  const yTick = (props: any) => {
    const y = props.y;
    const v = props.payload.value;
    const isMajor = Math.abs(v / p.major - Math.round(v / p.major)) < 1e-6;
    const len = isMajor ? 20 : 10;
    return (
      <g>
        <line x1={PL} x2={PL + len} y1={y} y2={y} stroke="#000" strokeWidth={2.2} />
        <line x1={PR} x2={PR - len} y1={y} y2={y} stroke="#000" strokeWidth={2.2} />
        {isMajor && (
          <text x={PL - 10} y={y} dy="0.36em" textAnchor="end" fontSize={31} fontFamily={FONT} fill="#000">
            {String(Math.round(v))}
          </text>
        )}
      </g>
    );
  };

  return (
    <div style={{ position: "absolute", left: p.left - PAD_L, top: p.top - PAD_T }}>
      <LineChart width={W} height={H} margin={{ top: PAD_T, right: PAD_R, bottom: 0, left: 0 }}>
        <XAxis
          dataKey="t" type="number" domain={[79, 105]} allowDataOverflow
          ticks={YEAR_TICKS} interval={0} tick={xTick} tickLine={false} axisLine={false} height={PAD_B}
        />
        <YAxis
          type="number" domain={[p.yMin, p.yMax]} allowDataOverflow
          ticks={yTicks} interval={0} tick={yTick} tickLine={false} axisLine={false} width={PAD_L}
        />
        <ReferenceArea x1={79} x2={105} y1={p.yMin} y2={p.yMax} fill="none" stroke="#000" strokeWidth={2.6} ifOverflow="visible" />
        {p.series.map((s, i) => (
          <Line
            key={SATELLITES[i]}
            name={SATELLITES[i]}
            data={s.map(([t, v]) => ({ t, v }))}
            dataKey="v"
            type="linear"
            stroke={SAT_COLORS[i]}
            strokeWidth={2}
            dot={false}
            activeDot={false}
            isAnimationActive={false}
          />
        ))}
        <Legend
          layout="horizontal" verticalAlign="middle" align="center"
          wrapperStyle={{ left: PL, top: PT + p.legendTop - 20, width: 760, height: 150 }}
          content={() => <LegendBox />}
        />
      </LineChart>
    </div>
  );
};

const textBase: React.CSSProperties = {
  position: "absolute",
  fontFamily: FONT,
  whiteSpace: "nowrap",
  color: "#000",
};

export default function App() {
  return (
    <div style={{ position: "absolute", left: 0, top: 0, width: 2648, height: 1199, overflow: "hidden", background: "#fff" }}>
      <div style={{ position: "absolute", left: 0, top: 0, width: 9, height: 1199, background: "#00aeef" }} />
      {PANELS.map((p) => (
        <React.Fragment key={p.title}>
          <Panel p={p} />
          <div style={{ ...textBase, left: p.titleX, top: p.titleBase - 34, fontSize: 40, lineHeight: "40px", transform: "translateX(-50%)" }}>
            {p.title}
          </div>
          <div style={{ ...textBase, left: p.yLabelX, top: p.top + p.h / 2, fontSize: 31, lineHeight: "31px", transform: "translate(-50%, -50%) rotate(-90deg)" }}>
            {p.yLabel}
          </div>
          <div style={{ ...textBase, left: p.left + p.w / 2, top: p.top + p.h + 65, fontSize: 31, lineHeight: "31px", transform: "translate(-50%, -50%)" }}>
            Time (years)
          </div>
        </React.Fragment>
      ))}
    </div>
  );
}
